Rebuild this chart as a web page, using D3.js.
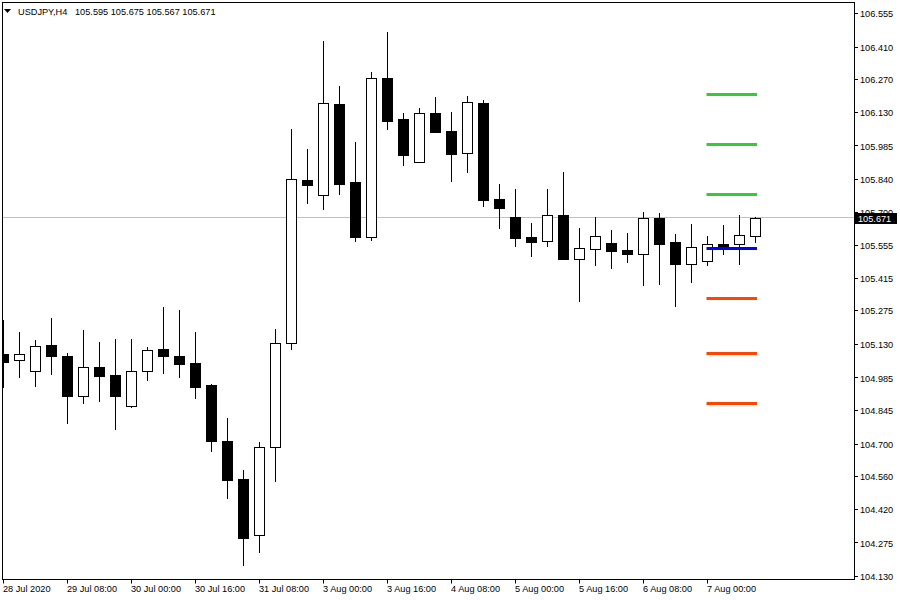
<!DOCTYPE html>
<html>
<head>
<meta charset="utf-8">
<script src="https://cdn.jsdelivr.net/npm/d3@7"></script>
<style>
  html, body { margin: 0; padding: 0; background: #fff; }
  svg { display: block; }
  text { font-family: "Liberation Sans", Arial, sans-serif; font-size: 9.2px; fill: #000; }
</style>
</head>
<body>
<svg id="chart" width="900" height="600"></svg>
<script>
// ---------------- data ----------------
const symbolTitle = "USDJPY,H4";
const titleValues = "105.595 105.675 105.567 105.671";

const times = [
  "28 Jul 16:00","28 Jul 20:00","29 Jul 00:00","29 Jul 04:00","29 Jul 08:00","29 Jul 12:00","29 Jul 16:00","29 Jul 20:00",
  "30 Jul 00:00","30 Jul 04:00","30 Jul 08:00","30 Jul 12:00","30 Jul 16:00","30 Jul 20:00","31 Jul 00:00","31 Jul 04:00",
  "31 Jul 08:00","31 Jul 12:00","31 Jul 16:00","31 Jul 20:00","3 Aug 00:00","3 Aug 04:00","3 Aug 08:00","3 Aug 12:00",
  "3 Aug 16:00","3 Aug 20:00","4 Aug 00:00","4 Aug 04:00","4 Aug 08:00","4 Aug 12:00","4 Aug 16:00","4 Aug 20:00",
  "5 Aug 00:00","5 Aug 04:00","5 Aug 08:00","5 Aug 12:00","5 Aug 16:00","5 Aug 20:00","6 Aug 00:00","6 Aug 04:00",
  "6 Aug 08:00","6 Aug 12:00","6 Aug 16:00","6 Aug 20:00","7 Aug 00:00","7 Aug 04:00","7 Aug 08:00","7 Aug 12:00"
];
const open = [105.086,105.059,105.012,105.124,105.076,104.904,105.029,104.995,104.864,105.012,105.106,105.076,105.046,104.951,104.710,104.547,
  104.305,104.684,105.132,105.836,105.770,106.162,105.826,105.591,106.274,106.097,105.912,106.123,106.045,105.951,106.166,105.753,
  105.675,105.589,105.574,105.685,105.497,105.540,105.564,105.534,105.518,105.671,105.569,105.475,105.486,105.560,105.559,105.595];
const high = [105.233,105.181,105.147,105.241,105.089,105.190,105.138,105.151,105.151,105.116,105.289,105.276,105.181,104.957,104.811,104.587,
  104.707,105.194,106.055,105.969,106.434,106.241,105.999,106.301,106.473,106.124,106.146,106.193,106.129,106.197,106.180,105.818,
  105.797,105.650,105.797,105.870,105.629,105.676,105.620,105.607,105.698,105.694,105.603,105.646,105.594,105.642,105.685,105.675];
const low = [104.944,104.988,104.950,105.001,104.790,104.876,104.885,104.764,104.859,104.976,105.006,104.988,104.898,104.670,104.467,104.179,
  104.235,104.541,105.109,105.738,105.712,105.777,105.574,105.579,106.057,105.902,105.912,106.044,105.833,105.871,105.725,105.630,
  105.553,105.510,105.553,105.497,105.316,105.470,105.458,105.484,105.385,105.389,105.294,105.398,105.471,105.518,105.475,105.567];
const close = [105.052,105.085,105.119,105.079,104.907,105.029,104.993,104.907,105.012,105.102,105.079,105.044,104.945,104.713,104.545,104.295,
  104.684,105.132,105.839,105.815,106.166,105.820,105.591,106.274,106.091,105.945,106.123,106.044,105.949,106.170,105.751,105.716,
  105.587,105.570,105.684,105.497,105.542,105.593,105.531,105.518,105.671,105.561,105.475,105.546,105.559,105.553,105.597,105.671];

// pivot-style levels drawn on the right
const levelNames = ["R3","R2","R1","PP","S1","S2","S3"];
const levelValues = [106.205,105.990,105.774,105.542,105.326,105.089,104.874];
const levelStart = "7 Aug 00:00";
const levelEnd = "7 Aug 12:00";

const currentPrice = 105.671;
const currentPriceLabel = "105.671";

const yTickLabels = ["106.555","106.410","106.270","106.130","105.985","105.840","105.700","105.555","105.415",
  "105.275","105.130","104.985","104.845","104.700","104.560","104.420","104.275","104.130"];
const xTickTimes = ["28 Jul 16:00","29 Jul 08:00","30 Jul 00:00","30 Jul 16:00","31 Jul 08:00","3 Aug 00:00",
  "3 Aug 16:00","4 Aug 08:00","5 Aug 00:00","5 Aug 16:00","6 Aug 08:00","7 Aug 00:00"];
const xTickLabels = ["28 Jul 2020","29 Jul 08:00","30 Jul 00:00","30 Jul 16:00","31 Jul 08:00","3 Aug 00:00",
  "3 Aug 16:00","4 Aug 08:00","5 Aug 00:00","5 Aug 16:00","6 Aug 08:00","7 Aug 00:00"];

// ---------------- layout ----------------
const plot = { left: 2.5, top: 2.5, right: 854.5, bottom: 579.5 };
const svg = d3.select("#chart");

const x = d3.scalePoint().domain(times).range([3.5, 3.5 + 16 * (times.length - 1)]);
const y = d3.scaleLinear().domain([104.130, 106.555]).range([576, 13]);
const snap = v => Math.round(v) + 0.5;

const levelColor = d3.scaleOrdinal()
  .domain(levelNames)
  .range(["#32CD32","#32CD32","#32CD32","#0000FF","#FF4500","#FF4500","#FF4500"]);

svg.append("rect").attr("width", 900).attr("height", 600).attr("fill", "#fff");

svg.append("clipPath").attr("id", "plotclip")
  .append("rect").attr("x", 3).attr("y", 3).attr("width", 851).attr("height", 576);

const g = svg.append("g").attr("clip-path", "url(#plotclip)");

// current price line (behind candles)
g.append("line")
  .attr("x1", plot.left).attr("x2", plot.right)
  .attr("y1", snap(y(currentPrice) - 1)).attr("y2", snap(y(currentPrice) - 1))
  .attr("stroke", "#c0c0c0").attr("stroke-width", 1);

const candles = times.map((t, i) => ({ t, o: open[i], h: high[i], l: low[i], c: close[i] }));

const cg = g.selectAll("g.candle").data(candles).join("g").attr("class", "candle");
cg.append("line")
  .attr("x1", d => x(d.t)).attr("x2", d => x(d.t))
  .attr("y1", d => Math.round(y(d.h))).attr("y2", d => Math.round(y(d.l)) + 1)
  .attr("stroke", "#000").attr("stroke-width", 1);
cg.append("rect")
  .attr("x", d => x(d.t) - 5)
  .attr("width", 10)
  .attr("y", d => snap(y(Math.max(d.o, d.c))))
  .attr("height", d => Math.max(1, Math.round(y(Math.min(d.o, d.c))) - Math.round(y(Math.max(d.o, d.c)))))
  .attr("fill", d => d.c >= d.o ? "#fff" : "#000")
  .attr("stroke", "#000").attr("stroke-width", 1);

// level lines (on top)
g.selectAll("line.level").data(levelNames).join("line")
  .attr("class", "level")
  .attr("x1", x(levelStart) - 1).attr("x2", x(levelEnd) + 1.5)
  .attr("y1", (d, i) => Math.round(y(levelValues[i])) + 0.5)
  .attr("y2", (d, i) => Math.round(y(levelValues[i])) + 0.5)
  .attr("stroke", d => levelColor(d)).attr("stroke-width", 3);

// frame
svg.append("rect")
  .attr("x", plot.left).attr("y", plot.top)
  .attr("width", plot.right - plot.left).attr("height", plot.bottom - plot.top)
  .attr("fill", "none").attr("stroke", "#000").attr("stroke-width", 1);

// right price axis
const yAxis = svg.append("g");
yAxis.selectAll("line").data(yTickLabels).join("line")
  .attr("x1", plot.right).attr("x2", plot.right + 3.5)
  .attr("y1", d => snap(y(+d))).attr("y2", d => snap(y(+d)))
  .attr("stroke", "#000");
yAxis.selectAll("text").data(yTickLabels).join("text")
  .attr("x", 860).attr("y", d => y(+d) + 1)
  .attr("dy", "0.35em")
  .text(d => d);

// current price label
const cpY = y(currentPrice);
svg.append("rect")
  .attr("x", plot.right + 0.5).attr("y", Math.round(cpY) - 5)
  .attr("width", 42).attr("height", 11)
  .attr("fill", "#000");
svg.append("text")
  .attr("x", 858).attr("y", cpY + 1).attr("dy", "0.35em")
  .style("fill", "#fff")
  .text(currentPriceLabel);

// bottom time axis
const xAxis = svg.append("g");
xAxis.selectAll("line").data(xTickTimes).join("line")
  .attr("x1", d => x(d)).attr("x2", d => x(d))
  .attr("y1", plot.bottom).attr("y2", plot.bottom + 4)
  .attr("stroke", "#000");
xAxis.selectAll("text").data(xTickTimes).join("text")
  .attr("x", d => x(d) - 0.5).attr("y", 592)
  .text((d, i) => xTickLabels[i]);

// title
svg.append("path")
  .attr("d", "M4,9 L11,9 L7.5,13 Z")
  .attr("fill", "#000");
svg.append("text").attr("x", 18).attr("y", 15).text(symbolTitle);
svg.append("text").attr("x", 75).attr("y", 15).text(titleValues);
</script>
</body>
</html>
